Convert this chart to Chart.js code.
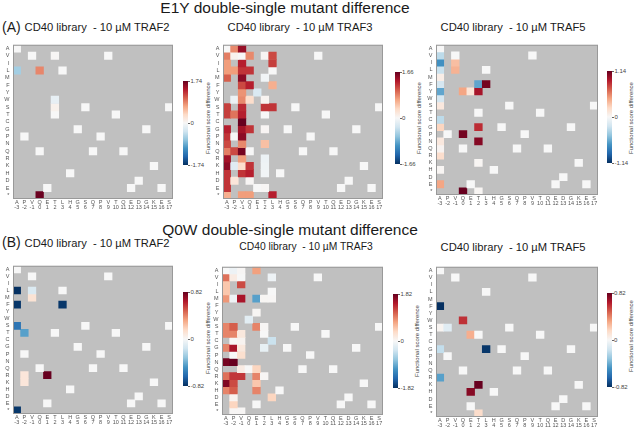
<!DOCTYPE html>
<html>
<head>
<meta charset="utf-8">
<script src="https://cdn.jsdelivr.net/npm/chart.js@4.4.1/dist/chart.umd.min.js"></script>
<style>
  body { margin:0; width:635px; height:433px; position:relative; background:#fff; overflow:hidden;
         font-family:"Liberation Sans", Arial, sans-serif; }
  .txt { position:absolute; white-space:pre; line-height:1; color:#1a1a1a; }
  .ctr { transform:translateX(-50%); }
  .cbl { position:absolute; font-size:6px; color:#444; line-height:1; transform:translateY(-50%); }
  .cbt { position:absolute; font-size:6px; color:#444; line-height:1; white-space:nowrap;
         transform:translate(-50%,-50%) rotate(-90deg); }
  .tick { position:absolute; width:2px; height:1px; background:#666; }
  canvas { position:absolute; }
</style>
</head>
<body>
<div class="txt ctr" style="left:285px;top:0px;font-size:15.5px">E1Y double-single mutant difference</div>
<div class="txt ctr" style="left:290px;top:222px;font-size:15.5px">Q0W double-single mutant difference</div>
<div class="txt" style="left:2px;top:20px;font-size:14px">(A)</div>
<div class="txt" style="left:2px;top:235px;font-size:14px">(B)</div>
<script>
// mutated residue (rows) and wild-type CD40 peptide (columns)
const rows = ["A","V","I","L","M","F","Y","W","S","T","C","G","P","N","Q","R","K","H","D","E","*"];
const wtSeq = ["A","P","V","Q","E","T","L","H","G","S","Q","P","V","T","Q","E","D","G","K","E","S"];
const positions = ["-3","-2","-1","0","1","2","3","4","5","6","7","8","9","10","11","12","13","14","15","16","17"];

// measured cells: [mutant, column index, functional score difference]
const e1yTraf2 = [["V",5,0.02],["L",0,-0.6],["L",3,0.85],["W",5,-0.15],["S",5,0.08],["*",3,1.72]];

const e1yTraf3 = [
  ["A",1,0.8],["A",2,1.45],
  ["V",0,0.85],["V",1,0.06],["V",3,0.8],["V",5,0.03],["V",6,1.1],
  ["I",0,0.7],["I",2,1.3],["I",6,1.15],
  ["L",0,0.7],["L",1,0.7],["L",2,1.2],["L",3,1.2],
  ["M",0,1.0],["M",2,1.5],["M",5,-0.05],
  ["F",2,1.1],["F",3,1.3],["F",6,0.6],
  ["Y",2,0.75],["Y",4,-0.25],
  ["W",1,-0.1],["W",2,0.8],["W",3,0.3],["W",5,0.05],
  ["S",0,1.15],["S",2,1.25],["S",5,1.2],["S",6,1.2],
  ["T",0,1.15],["T",1,0.9],["T",2,1.3],
  ["C",2,1.66],
  ["G",0,1.3],["G",2,1.4],["G",3,1.2],["G",5,0.03],
  ["P",0,1.2],["P",2,1.5],
  ["N",0,1.1],["N",2,0.8],["N",5,0.5],
  ["Q",0,0.85],["Q",1,1.1],["Q",2,1.6],
  ["R",0,1.4],["R",2,0.7],["R",5,-0.1],
  ["K",0,1.5],["K",1,-0.2],["K",2,0.3],["K",3,1.2],["K",5,-0.08],
  ["H",0,1.2],["H",2,1.2],["H",3,1.3],["H",5,-0.05],
  ["D",0,1.2],["D",1,0.2],["D",3,0.02],
  ["E",0,1.2],["E",5,0.02],
  ["*",0,0.6],["*",2,0.7],["*",3,0.7],["*",6,1.3]
];

const e1yTraf5 = [
  ["V",0,-0.3],["I",0,-0.7],["I",2,0.35],["L",0,-0.25],["L",2,0.4],
  ["M",0,0.08],["F",0,-0.2],["F",5,-0.6],["F",6,1.1],
  ["Y",0,-0.6],["Y",3,0.45],["Y",4,0.15],["Y",5,0.95],
  ["W",0,-0.2],["S",0,0.12],["C",0,-0.3],["G",0,0.25],["G",5,0.85],
  ["P",3,1.1],["N",0,0.12],["N",5,1.05],["Q",0,0.03],["R",0,0.2],
  ["K",5,0.02],["H",0,0.02],["E",0,0.45],["*",3,1.14],["*",5,0.02]
];

const q0wTraf2 = [
  ["L",0,-0.82],["L",2,-0.12],["M",2,0.12],["F",0,-0.8],["F",6,-0.8],
  ["S",0,-0.6],["T",1,-0.45],["R",1,0.1],["R",4,0.82],["K",1,0.1],["*",0,-0.8]
];

const q0wTraf3 = [
  ["A",1,-0.1],["A",2,0.02],["A",4,0.75],
  ["V",0,1.0],["V",1,0.15],["V",6,-0.1],
  ["I",0,0.5],["I",2,1.2],
  ["L",0,0.5],
  ["M",0,0.8],["M",1,-0.1],["M",2,1.5],["M",4,-1.0],["M",5,0.03],["M",6,0.02],
  ["Y",4,0.03],
  ["W",3,-0.2],
  ["S",0,0.9],["S",1,1.1],["S",4,0.9],["S",5,0.02],
  ["T",0,0.9],["T",1,0.9],["T",2,0.2],
  ["C",1,0.02],["C",2,0.05],["C",6,-0.4],
  ["G",0,0.9],["G",1,1.5],["G",2,0.2],["G",5,-0.15],
  ["P",2,0.3],
  ["N",0,1.75],["N",1,1.82],
  ["Q",2,0.15],["Q",4,0.4],
  ["R",0,1.0],["R",1,1.3],["R",2,1.3],["R",4,0.9],["R",5,0.02],
  ["K",0,1.7],["K",1,1.2],["K",4,0.5],
  ["H",0,0.9],["H",1,1.1],["H",4,0.9],
  ["D",1,0.05],["D",6,0.4],
  ["E",1,0.4],
  ["*",1,0.02],["*",2,0.02]
];

const q0wTraf5 = [
  ["F",0,-0.82],["W",3,0.6],["S",0,0.02],["S",1,-0.1],["T",4,0.3],
  ["G",0,-0.2],["G",6,-0.8],["R",0,-0.45],["K",5,0.82],["H",4,0.75],["*",5,0.15]
];

const titles = ["CD40 library  - 10 µM TRAF2", "CD40 library  - 10 µM TRAF3", "CD40 library  - 10 µM TRAF5"];
const e1yMax = [1.74, 1.66, 1.14];
const q0wMax = [0.82, 1.82, 0.82];

// RdBu_r
const stops = ["#053061","#2166ac","#4393c3","#92c5de","#d1e5f0","#f7f7f7","#fddbc7","#f4a582","#d6604d","#b2182b","#67001f"];
function hex(h) { return [1,3,5].map(i => parseInt(h.substr(i,2),16)); }
function colorFor(v, max) {
  let t = Math.max(0, Math.min(1, (v + max) / (2 * max))) * (stops.length - 1);
  const i = Math.min(stops.length - 2, Math.floor(t));
  const f = t - i, a = hex(stops[i]), b = hex(stops[i+1]);
  return "rgb(" + a.map((x, k) => Math.round(x + (b[k] - x) * f)).join(",") + ")";
}

const font = "'Liberation Sans', Arial, sans-serif";

const frame = {
  id: "frame",
  beforeDatasetsDraw(chart) {
    const a = chart.chartArea, ctx = chart.ctx;
    ctx.save(); ctx.fillStyle = "#c0c0c0";
    ctx.fillRect(a.left, a.top, a.right - a.left, a.bottom - a.top); ctx.restore();
  },
  afterDatasetsDraw(chart) {
    const a = chart.chartArea, ctx = chart.ctx;
    ctx.save(); ctx.strokeStyle = "#999"; ctx.lineWidth = 1;
    ctx.strokeRect(a.left + 0.5, a.top + 0.5, a.right - a.left - 1, a.bottom - a.top - 1); ctx.restore();
  }
};

function addText(cls, html, css) {
  const d = document.createElement("div");
  d.className = cls; d.textContent = html; d.style.cssText = css;
  document.body.appendChild(d);
}

// plot [left, top, right, bottom], colorbar [x, y, w, h], cbar title centre, panel title [cx, top, size]
const layout = [
  {data: e1yTraf2, max: e1yMax[0], title: titles[0], plot: [13,40,173,199], cb: [183,81,5,84], ct: [208,118], tt: [97,22,11.2]},
  {data: e1yTraf3, max: e1yMax[1], title: titles[1], plot: [223,40,383,199], cb: [395,72,4.5,92], ct: [419,118], tt: [300,22,11.2]},
  {data: e1yTraf5, max: e1yMax[2], title: titles[2], plot: [436,40,598,195], cb: [607,71,5,92], ct: [631,118], tt: [513,22,11.2]},
  {data: q0wTraf2, max: q0wMax[0], title: titles[0], plot: [13,261,173,414], cb: [183,292,5,94], ct: [208,338], tt: [97,237.5,11.2]},
  {data: q0wTraf3, max: q0wMax[1], title: titles[1], plot: [222,262,383,415], cb: [393,294,5,94], ct: [417,341], tt: [306,242,10.3]},
  {data: q0wTraf5, max: q0wMax[2], title: titles[2], plot: [436,262,598,417], cb: [607,293,4.5,94], ct: [631,336], tt: [513,242,11.2]}
];

const yW = 13, xH = 14, padT = 2, padR = 2;

layout.forEach(p => {
  const grid = rows.map(() => wtSeq.map(() => null));
  wtSeq.forEach((aa, c) => { grid[rows.indexOf(aa)][c] = 0; });
  p.data.forEach(([aa, c, v]) => { grid[rows.indexOf(aa)][c] = v; });

  const datasets = rows.map((aa, r) => ({
    label: aa,
    data: grid[r].map(v => v === null ? null : [r, r + 1]),
    backgroundColor: grid[r].map(v => v === null ? "rgba(0,0,0,0)" : colorFor(v, p.max)),
    borderWidth: 0,
    grouped: false,
    barPercentage: 1,
    categoryPercentage: 1
  }));

  const [l, t, r, b] = p.plot;
  const cv = document.createElement("canvas");
  cv.width = (r - l) + yW + padR;
  cv.height = (b - t) + padT + xH;
  cv.style.left = (l - yW) + "px";
  cv.style.top = (t - padT) + "px";
  document.body.appendChild(cv);

  new Chart(cv, {
    type: "bar",
    data: { labels: wtSeq.map((aa, i) => [aa, positions[i]]), datasets },
    options: {
      responsive: false,
      animation: false,
      devicePixelRatio: 1,
      layout: { padding: { top: padT, right: padR, left: 0, bottom: 0 } },
      plugins: { legend: { display: false }, tooltip: { enabled: false } },
      scales: {
        x: {
          offset: true,
          grid: { display: false, drawTicks: false },
          border: { display: false },
          ticks: { font: { size: 5.5, family: font, lineHeight: 0.95 }, color: "#555", maxRotation: 0, autoSkip: false, padding: 1 },
          afterFit: s => { s.height = xH; }
        },
        y: {
          type: "linear", min: 0, max: 21, reverse: true,
          grid: { display: false, drawTicks: false },
          border: { display: false },
          afterBuildTicks: s => { s.ticks = rows.map((_, i) => ({ value: i + 0.5 })); },
          ticks: { callback: (v, i) => rows[i], autoSkip: false, font: { size: 5.5, family: font }, color: "#555", padding: 3.5 },
          afterFit: s => { s.width = yW; }
        }
      }
    },
    plugins: [frame]
  });

  // panel title
  addText("txt ctr", p.title, `left:${p.tt[0]}px;top:${p.tt[1]}px;font-size:${p.tt[2]}px`);

  // colour bar
  const [cx, cy, cw, ch] = p.cb;
  const bar = document.createElement("div");
  bar.style.cssText = `position:absolute;left:${cx}px;top:${cy}px;width:${cw}px;height:${ch}px;` +
    `background:linear-gradient(to top, ${stops.join(",")})`;
  document.body.appendChild(bar);
  [[p.max.toFixed(2), cy], ["0", cy + ch / 2], ["-" + p.max.toFixed(2), cy + ch]].forEach(([s, y]) => {
    addText("cbl", s, `left:${cx + cw + 2.5}px;top:${y}px`);
    addText("tick", "", `left:${cx + cw}px;top:${y - 0.5}px`);
  });
  addText("cbt", "Functional score difference", `left:${p.ct[0]}px;top:${p.ct[1]}px`);
});
</script>
</body>
</html>
